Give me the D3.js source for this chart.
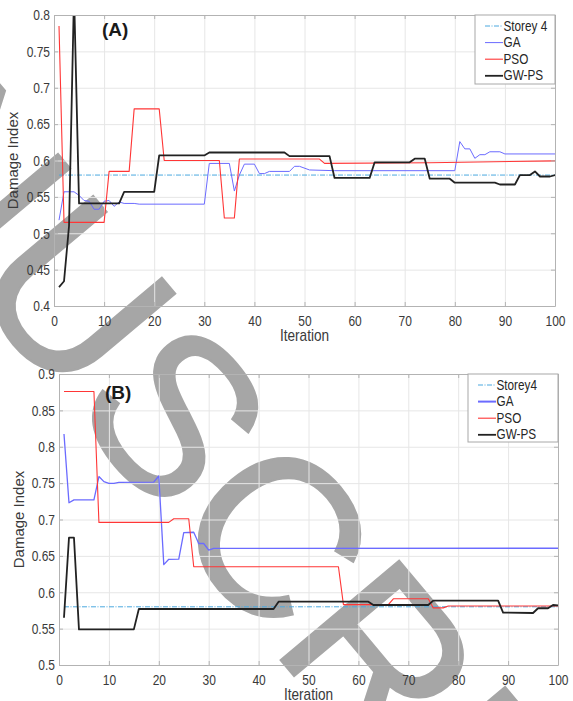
<!DOCTYPE html>
<html>
<head>
<meta charset="utf-8">
<script src="https://cdn.jsdelivr.net/npm/d3@7"></script>
<style>
  body { margin: 0; background: #fff; }
  svg { display: block; font-family: "Liberation Sans", Arial, sans-serif; }
</style>
</head>
<body>
<svg id="chart" width="573" height="701"></svg>
<script>
// ---- data: [iteration, damage index] vertices ----
const iterTicks = [0, 10, 20, 30, 40, 50, 60, 70, 80, 90, 100]
const yTicksA = [0.4, 0.45, 0.5, 0.55, 0.6, 0.65, 0.7, 0.75, 0.8]
const yTicksB = [0.5, 0.55, 0.6, 0.65, 0.7, 0.75, 0.8, 0.85, 0.9]

const storeyA = [[1, 0.58], [100, 0.58]]
const gaA = [[1, 0.518], [2, 0.557], [3, 0.557], [4, 0.557], [5, 0.552], [6, 0.545], [7, 0.544],
  [8, 0.533], [9, 0.533], [10, 0.544], [11, 0.545], [12, 0.537], [13, 0.543], [14, 0.541],
  [16, 0.541], [17, 0.540], [30, 0.540], [31, 0.596], [35, 0.596], [36, 0.558], [37, 0.58],
  [38, 0.595], [40, 0.595], [41, 0.582], [42, 0.582], [43, 0.585], [47, 0.585], [48, 0.592],
  [49, 0.592], [51, 0.587], [56, 0.586], [80, 0.586], [81, 0.626], [82, 0.616], [83, 0.616],
  [84, 0.603], [85, 0.608], [86, 0.608], [87, 0.612], [89, 0.612], [90, 0.609], [100, 0.609]]
const psoA = [[1, 0.785], [2, 0.515], [10, 0.515], [11, 0.585], [15, 0.585], [16, 0.671],
  [21, 0.671], [22, 0.6], [33, 0.6], [34, 0.521], [36, 0.521], [37, 0.602], [53, 0.602],
  [54, 0.596], [75, 0.597], [100, 0.5995]]
const gwpsA = [[1, 0.426], [2, 0.434], [3, 0.51], [4, 0.83], [5, 0.541], [13, 0.541], [14, 0.557],
  [20, 0.557], [21, 0.607], [30, 0.607], [31, 0.611], [46, 0.611], [47, 0.606], [55, 0.606],
  [56, 0.576], [63, 0.576], [64, 0.5975], [71, 0.5975], [72, 0.6025], [74, 0.6025], [75, 0.575],
  [79, 0.575], [80, 0.5695], [88, 0.5695], [89, 0.567], [92, 0.567], [93, 0.58], [95, 0.58],
  [96, 0.585], [97, 0.578], [99, 0.578], [100, 0.58]]

const storeyB = [[1, 0.58], [100, 0.58]]
const gaB = [[1, 0.8175], [2, 0.723], [3, 0.727], [7, 0.727], [8, 0.759], [9, 0.752], [10, 0.7497],
  [11, 0.7497], [12, 0.751], [19, 0.7515], [20, 0.7598], [21, 0.638], [22, 0.6453], [24, 0.6455],
  [25, 0.682], [27, 0.6825], [28, 0.667], [29, 0.667], [30, 0.658], [31, 0.6604], [100, 0.6605]]
const psoB = [[1, 0.876], [7, 0.876], [8, 0.696], [22, 0.696], [23, 0.701], [26, 0.701], [27, 0.635],
  [56, 0.635], [57, 0.583], [66, 0.583], [67, 0.591], [74, 0.591], [75, 0.5785], [77, 0.5785],
  [78, 0.581], [100, 0.581]]
const gwpsB = [[1, 0.565], [2, 0.675], [3, 0.675], [4, 0.549], [15, 0.549], [16, 0.577], [43, 0.577],
  [44, 0.587], [62, 0.587], [63, 0.5825], [74, 0.5825], [75, 0.5885], [88, 0.5885], [89, 0.572],
  [95, 0.5715], [96, 0.578], [98, 0.578], [99, 0.5825], [100, 0.582]]

const svg = d3.select("#chart")

// "MANUSCRIPT" watermark, lying under the plotted content
svg.append("text")
  .attr("transform", "translate(-358,-101) rotate(50)")
  .attr("font-size", 225)
  .attr("fill", "#a6a6a6")
  .attr("stroke", "#a6a6a6")
  .attr("stroke-width", 2)
  .text("MANUSCRIPT")

// text in the source image is squeezed horizontally
const SQ = 0.8

const drawPanel = (p) => {
  const width = p.right - p.left
  const height = p.bottom - p.top

  const x = d3.scaleLinear().domain([0, 100]).range([0, width])
  const y = d3.scaleLinear().domain(p.yDomain).range([height, 0])

  const g = svg.append("g").attr("transform", "translate(" + p.left + "," + p.top + ")")

  // grid
  g.append("g")
    .attr("transform", "translate(0," + height + ")")
    .call(d3.axisBottom(x).tickValues(iterTicks).tickSize(-height).tickFormat(""))
    .call(a => a.select(".domain").remove())
    .selectAll("line").attr("stroke", "#e6e6e6")
  g.append("g")
    .call(d3.axisLeft(y).tickValues(p.yTicks).tickSize(-width).tickFormat(""))
    .call(a => a.select(".domain").remove())
    .selectAll("line").attr("stroke", "#e6e6e6")

  // lines
  const clipId = "clip-" + p.name
  g.append("clipPath").attr("id", clipId)
    .append("rect").attr("width", width).attr("height", height)

  const line = d3.line().x(d => x(d[0])).y(d => y(d[1]))
  const plot = g.append("g").attr("clip-path", "url(#" + clipId + ")")
  p.series.forEach(s => {
    plot.append("path")
      .datum(s.data)
      .attr("d", line)
      .attr("fill", "none")
      .attr("stroke", s.color)
      .attr("stroke-width", s.width)
      .attr("stroke-dasharray", s.dash || null)
      .attr("stroke-linejoin", "round")
  })

  // axes (inward ticks on all sides, box)
  const axisCol = "#b3b3b3"
  const xAx = g.append("g").attr("transform", "translate(0," + height + ")")
    .call(d3.axisBottom(x).tickValues(iterTicks).tickSize(-4).tickSizeOuter(0).tickPadding(9))
  const yAx = g.append("g")
    .call(d3.axisLeft(y).tickValues(p.yTicks).tickSize(-4).tickSizeOuter(0).tickPadding(6)
      .tickFormat(d => String(+d.toFixed(2))))
  const xTop = g.append("g")
    .call(d3.axisTop(x).tickValues(iterTicks).tickSize(-4).tickSizeOuter(0).tickFormat(""))
  const yRight = g.append("g").attr("transform", "translate(" + width + ",0)")
    .call(d3.axisRight(y).tickValues(p.yTicks).tickSize(-4).tickSizeOuter(0).tickFormat(""))

  ;[xAx, yAx, xTop, yRight].forEach(a => {
    a.select(".domain").attr("stroke", axisCol)
    a.selectAll("line").attr("stroke", axisCol)
  })
  xAx.selectAll("text")
    .attr("fill", "#3a3a3a").attr("font-size", 15)
    .attr("transform", "scale(" + SQ + ",1)")
  yAx.selectAll("text")
    .attr("fill", "#3a3a3a").attr("font-size", 15)
    .attr("x", -4 / SQ)
    .attr("transform", "scale(" + SQ + ",1)")

  // axis titles
  g.append("text")
    .attr("transform", "translate(" + (width / 2) + "," + (height + 35) + ") scale(0.85,1)")
    .attr("text-anchor", "middle")
    .attr("font-size", 16)
    .attr("fill", "#3a3a3a")
    .text("Iteration")
  g.append("text")
    .attr("transform", "translate(" + p.yLabelX + "," + (height / 2) + ") rotate(-90)")
    .attr("text-anchor", "middle")
    .attr("font-size", 15)
    .attr("fill", "#3a3a3a")
    .text("Damage Index")

  // panel tag
  g.append("text")
    .attr("x", p.tagX).attr("y", p.tagY)
    .attr("font-size", 19).attr("font-weight", "bold")
    .attr("fill", "#1a1a1a")
    .text(p.tag)

  // legend
  const lg = g.append("g").attr("transform", "translate(" + (width - p.legW) + ",0)")
  lg.append("rect")
    .attr("width", p.legW).attr("height", p.legH)
    .attr("fill", "#fff").attr("stroke", "#a8a8a8")
  p.series.forEach((s, i) => {
    const ly = 11 + i * 16.6
    lg.append("line")
      .attr("x1", 10).attr("x2", 28).attr("y1", ly).attr("y2", ly)
      .attr("stroke", s.color).attr("stroke-width", s.legWidth || s.width)
      .attr("stroke-dasharray", s.dash || null)
    lg.append("text")
      .attr("transform", "translate(28.5," + (ly + 4.6) + ") scale(0.84,1)")
      .attr("font-size", 14)
      .attr("fill", "#262626")
      .text(s.label)
  })
}

const storeyCol = "#4aa8df"
const gaCol = "#6b6bff"
const psoCol = "#ff3636"
const gwpsCol = "#222222"

drawPanel({
  name: "a", tag: "(A)", left: 54, right: 555, top: 15, bottom: 306,
  yDomain: [0.4, 0.8], yTicks: yTicksA, yLabelX: -36, tagX: 48, tagY: 21,
  legW: 80, legH: 69,
  series: [
    { label: "Storey 4", data: storeyA, color: storeyCol, width: 1, dash: "5,1.5,1,1.5" },
    { label: "GA", data: gaA, color: gaCol, width: 1 },
    { label: "PSO", data: psoA, color: psoCol, width: 1.1 },
    { label: "GW-PS", data: gwpsA, color: gwpsCol, width: 1.8 }
  ]
})

drawPanel({
  name: "b", tag: "(B)", left: 59, right: 558, top: 374, bottom: 665,
  yDomain: [0.5, 0.9], yTicks: yTicksB, yLabelX: -35, tagX: 46, tagY: 25,
  legW: 90, legH: 68,
  series: [
    { label: "Storey4", data: storeyB, color: storeyCol, width: 1, dash: "5,1.5,1,1.5" },
    { label: "GA", data: gaB, color: gaCol, width: 1.3, legWidth: 2 },
    { label: "PSO", data: psoB, color: psoCol, width: 1.1 },
    { label: "GW-PS", data: gwpsB, color: gwpsCol, width: 1.8 }
  ]
})
</script>
</body>
</html>
